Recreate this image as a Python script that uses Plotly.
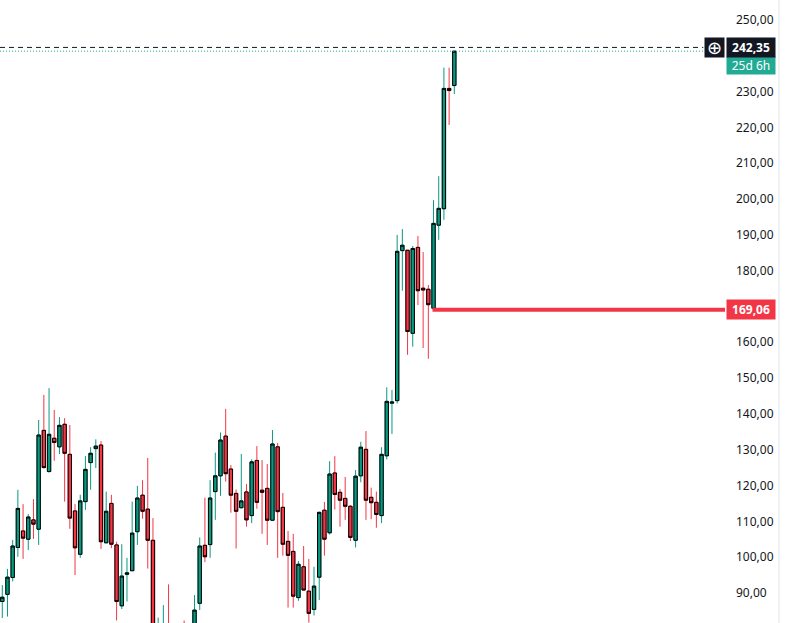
import plotly.graph_objects as go

# velas diarias, de izquierda a derecha
opens = [87.6, 89.6, 94.3, 102.7, 107.3, 105.0, 110.4, 107.8, 135.4, 123.9,
         133.2, 130.8, 137.1, 128.7, 112.9, 100.8, 115.5, 126.4, 130.3, 131.3,
         104.0, 115.0, 103.4, 86.4, 95.2, 96.2, 107.1, 117.3, 113.4, 104.7,
         77.0, 78.0, 81.0, 76.0, 78.0, 80.0, 76.0, 79.0, 87.1, 103.3,
         103.5, 118.3, 122.7, 133.8, 124.6, 117.8, 113.8, 118.2, 111.6, 127.0,
         118.7, 119.2, 110.3, 130.8, 113.9, 104.4, 101.6, 88.7, 97.3, 90.5,
         85.4, 94.4, 113.1, 106.8, 123.5, 118.1, 116.4, 114.2, 104.7, 122.7,
         130.1, 116.7, 115.3, 111.6, 128.3, 143.0, 143.7, 185.6, 185.7, 162.5,
         186.5, 175.1, 174.8, 169.5, 192.7, 197.3, 230.9, 231.7]
highs = [92.2, 96.7, 104.8, 118.8, 114.8, 112.0, 116.2, 138.3, 145.3, 147.2,
         141.1, 139.1, 138.8, 136.9, 114.8, 117.4, 128.2, 130.7, 132.9, 132.4,
         118.3, 117.4, 104.3, 103.6, 99.8, 115.5, 119.9, 121.5, 127.7, 110.9,
         83.1, 86.6, 92.4, 80.5, 81.0, 82.3, 81.0, 89.4, 105.5, 116.6,
         121.5, 129.2, 134.8, 141.4, 125.7, 118.9, 128.8, 120.4, 127.3, 131.0,
         127.1, 126.0, 135.5, 131.9, 117.9, 107.3, 106.5, 98.9, 103.1, 99.5,
         97.3, 112.7, 115.4, 126.8, 128.2, 119.0, 122.4, 114.5, 124.3, 132.2,
         135.2, 119.4, 118.3, 130.7, 147.4, 146.7, 190.0, 191.6, 185.7, 186.9,
         189.7, 185.2, 176.0, 199.7, 206.4, 236.7, 236.7, 241.3]
lows = [83.0, 83.4, 93.2, 100.1, 99.5, 102.0, 105.1, 103.4, 124.8, 123.6,
        126.9, 128.8, 115.5, 107.9, 95.0, 99.8, 113.2, 118.8, 124.9, 102.3,
        103.9, 102.5, 82.3, 85.5, 87.6, 96.2, 103.4, 110.7, 96.8, 76.0,
        74.0, 75.0, 74.0, 72.0, 73.0, 74.0, 72.0, 77.0, 85.2, 98.6,
        99.8, 110.4, 117.1, 121.1, 112.4, 102.4, 113.6, 108.5, 109.5, 113.5,
        106.5, 103.4, 110.3, 99.8, 100.4, 85.9, 85.9, 87.8, 90.8, 81.7,
        83.7, 88.0, 100.4, 106.3, 113.3, 108.5, 110.4, 104.5, 102.7, 120.9,
        110.4, 110.6, 108.2, 109.5, 127.3, 134.4, 142.9, 174.4, 156.5, 158.8,
        170.4, 158.4, 155.4, 169.06, 188.6, 194.2, 220.7, 229.3]
closes = [88.8, 94.4, 103.1, 113.6, 105.3, 111.2, 109.2, 134.1, 125.0, 134.3,
          132.0, 136.8, 129.0, 110.9, 102.6, 115.7, 124.5, 129.0, 131.0, 104.3,
          112.8, 103.6, 87.6, 94.7, 95.6, 106.7, 116.5, 112.8, 104.7, 79.0,
          81.0, 81.2, 76.0, 78.0, 75.0, 76.0, 79.0, 85.2, 103.1, 100.1,
          116.5, 122.7, 132.7, 123.3, 117.3, 112.8, 115.7, 110.4, 126.6, 115.3,
          118.1, 110.3, 131.6, 112.7, 103.6, 100.5, 89.1, 98.0, 90.8, 84.3,
          91.9, 112.5, 105.0, 123.2, 117.5, 115.9, 114.2, 105.5, 122.6, 130.7,
          115.9, 115.2, 111.9, 128.7, 143.5, 143.3, 185.4, 187.1, 163.0, 186.2,
          174.4, 174.6, 170.5, 193.2, 197.4, 230.9, 230.3, 241.3]

# niveles marcados
nivel_soporte = 169.06
nivel_cursor = 242.35
texto_cursor = "242,35"
texto_cuenta = "25d 6h"

ticks_precio = [90, 100, 110, 120, 130, 140, 150, 160, 170, 180, 190, 200, 210, 220, 230, 240, 250]
ticks_texto = [f"{v:.2f}".replace(".", ",") for v in ticks_precio]

VERDE = "#089981"
ROJO = "#F23645"
OSCURO = "#131722"

idx = list(range(len(opens)))
x_fin = 139.1
cuerpo_alto = [max(o, c) for o, c in zip(opens, closes)]
cuerpo_bajo = [min(o, c) for o, c in zip(opens, closes)]

fig = go.Figure()

# mechas de color
fig.add_trace(go.Candlestick(
    x=idx, open=opens, high=highs, low=lows, close=closes,
    increasing=dict(line=dict(color=VERDE, width=1), fillcolor=VERDE),
    decreasing=dict(line=dict(color=ROJO, width=1), fillcolor=ROJO),
    whiskerwidth=0, hoverinfo="skip", showlegend=False))

# cuerpos con borde negro
fig.add_trace(go.Candlestick(
    x=idx, open=opens, high=cuerpo_alto, low=cuerpo_bajo, close=closes,
    increasing=dict(line=dict(color="#000000", width=1), fillcolor=VERDE),
    decreasing=dict(line=dict(color="#000000", width=1), fillcolor=ROJO),
    whiskerwidth=0, hoverinfo="skip", showlegend=False))

# línea de soporte roja desde la vela del mínimo
i_soporte = lows.index(nivel_soporte)
fig.add_trace(go.Scatter(
    x=[i_soporte - 0.2, x_fin], y=[nivel_soporte, nivel_soporte],
    mode="lines", line=dict(color=ROJO, width=4),
    hoverinfo="skip", showlegend=False))

# línea de precio (punteada) y cursor (discontinua)
fig.add_shape(type="line", xref="paper", x0=0, x1=1, yref="y",
              y0=closes[-1], y1=closes[-1],
              line=dict(color="#22ab94", width=1, dash="1px,2px"))
fig.add_shape(type="line", xref="paper", x0=0, x1=0.97, yref="y",
              y0=nivel_cursor, y1=nivel_cursor,
              line=dict(color=OSCURO, width=1, dash="5px,4px"))

# borde derecho de la ventana
fig.add_shape(type="line", xref="paper", x0=1.0745, x1=1.0745, yref="paper",
              y0=0, y1=1, line=dict(color="#e0e3eb", width=1))

fuente = "Noto Sans"
# etiquetas del eje
fig.add_annotation(xref="paper", x=1, xanchor="left", xshift=1, yref="y",
                   y=closes[-1], yshift=-14, text=texto_cuenta, showarrow=False,
                   bgcolor="#22ab94", width=44, height=13, borderpad=2,
                   font=dict(family=fuente, size=12, color="white"))
fig.add_annotation(xref="paper", x=1, xanchor="left", xshift=1, yref="y",
                   y=nivel_cursor, text="<b>" + texto_cursor + "</b>", showarrow=False,
                   bgcolor=OSCURO, width=44, height=15, borderpad=2,
                   font=dict(family=fuente, size=12, color="white"))
fig.add_annotation(xref="paper", x=1, xanchor="right", xshift=0, yref="y",
                   y=nivel_cursor, text="⊕", showarrow=False,
                   bgcolor=OSCURO, width=15, height=15, borderpad=2,
                   font=dict(family="DejaVu Sans", size=18, color="white"))
fig.add_annotation(xref="paper", x=1, xanchor="left", xshift=1, yref="y",
                   y=nivel_soporte, text="<b>" + f"{nivel_soporte:.2f}".replace(".", ",") + "</b>",
                   showarrow=False, bgcolor=ROJO, width=44, height=15, borderpad=2,
                   font=dict(family=fuente, size=12, color="white"))

fig.update_layout(
    width=786, height=623,
    margin=dict(l=0, r=61, t=0, b=0),
    paper_bgcolor="white", plot_bgcolor="white",
    boxgap=0.2, boxgroupgap=0.2,
    font=dict(family=fuente, size=12, color=OSCURO),
    xaxis=dict(range=[-0.44, x_fin], rangeslider=dict(visible=False),
               showgrid=False, zeroline=False, showticklabels=False,
               showline=False, ticks=""),
    yaxis=dict(range=[81.6, 255.59], side="right", tickvals=ticks_precio,
               ticktext=ticks_texto, showgrid=False, zeroline=False,
               showline=False, ticks="", ticklabelstandoff=10,
               tickfont=dict(family=fuente, size=12, color=OSCURO)),
)

# sin margen del body para que el gráfico llene la ventana
fig.write_html("out.html", config={"displayModeBar": False},
               post_script="document.body.style.margin='0';")
